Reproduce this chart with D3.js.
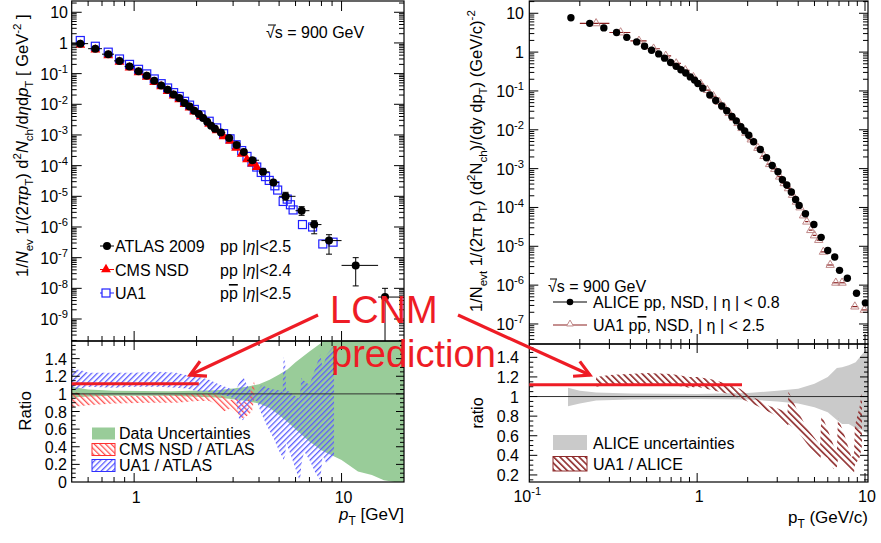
<!DOCTYPE html>
<html><head><meta charset="utf-8">
<script src="https://cdn.jsdelivr.net/npm/d3@7"></script>
<style>body{margin:0;background:#fff}svg text{font-family:"Liberation Sans",Arial,sans-serif;fill:#000}</style>
</head><body><svg id="c" width="881" height="543"></svg>
<script>
// ---------------- DATA ----------------
// Left: ATLAS 2009 (pT marker, bin low, bin high, value)
const atlasPt  = [0.55,0.65,0.75,0.85,0.95,1.05,1.15,1.25,1.35,1.45,1.55,1.65,1.75,1.85,1.95,2.05,2.15,2.25,2.35,2.45,2.62,2.87,3.12,3.38,3.72,4.18,4.69,5.37,6.42,7.38,8.7,11.7,16.2];
const atlasLo  = [0.5,0.6,0.7,0.8,0.9,1.0,1.1,1.2,1.3,1.4,1.5,1.6,1.7,1.8,1.9,2.0,2.1,2.2,2.3,2.4,2.5,2.75,3.0,3.25,3.5,4.0,4.5,5.0,6.0,7.0,8.0,10,15];
const atlasHi  = [0.6,0.7,0.8,0.9,1.0,1.1,1.2,1.3,1.4,1.5,1.6,1.7,1.8,1.9,2.0,2.1,2.2,2.3,2.4,2.5,2.75,3.0,3.25,3.5,4.0,4.5,5.0,6.0,7.0,8.0,10,15,20];
const atlasVal = [0.95,0.65,0.43,0.26,0.17,0.12,0.085,0.058,0.041,0.030,0.021,0.016,0.011,0.0085,0.0062,0.0048,0.0036,0.0027,0.0020,0.0016,0.0012,0.00079,0.00047,0.00028,0.00015,6.3e-5,2.8e-5,1.0e-5,3.4e-6,1.2e-6,3.6e-7,5.6e-8,5.2e-9];
// ATLAS y error bars where visible: [pT, low, high]
const atlasErr = [[4.18,5.2e-5,7.6e-5],[5.37,7.5e-6,1.35e-5],[6.42,2.4e-6,4.6e-6],[7.38,6.0e-7,1.6e-6],[8.7,1.3e-7,5.6e-7],[11.7,1.2e-8,1.0e-7],[16.2,1e-12,1.0e-8]];
// CMS NSD
const cmsPt  = [0.55,0.65,0.75,0.85,0.95,1.05,1.15,1.25,1.35,1.45,1.55,1.65,1.75,1.85,1.95,2.1,2.3,2.5,2.7,2.9,3.1,3.3,3.5,3.7,3.9];
const cmsVal = [0.86,0.60,0.39,0.24,0.155,0.11,0.078,0.053,0.038,0.027,0.019,0.0145,0.0101,0.0078,0.0057,0.0040,0.0023,0.0014,0.00090,0.00064,0.00038,0.00024,0.00016,0.000115,0.00009];
// UA1 (left panel)
const ua1LPt  = [0.55,0.65,0.75,0.85,0.95,1.05,1.15,1.25,1.35,1.45,1.55,1.65,1.75,1.85,1.95,2.1,2.3,2.5,2.7,2.9,3.1,3.3,3.5,3.7,3.9,4.1,4.3,4.48,4.77,4.92,5.23,5.47,5.67,5.84,6.48,7.25,8.12,9.1];
const ua1LVal = [1.2,0.78,0.5,0.3,0.2,0.138,0.098,0.067,0.047,0.034,0.024,0.018,0.0125,0.0094,0.0068,0.0045,0.0028,0.0017,0.0011,0.00075,0.00048,0.00031,0.00020,0.00013,9.0e-5,6.0e-5,4.4e-5,3.3e-5,2.2e-5,1.6e-5,6.8e-6,8.1e-6,5.3e-6,3.6e-6,1.2e-6,1.0e-6,2.8e-7,3.2e-7];
// Left ratio bands: [pT, low, high]
const dataUncBand = [[0.5,0.96,1.08],[0.6,0.97,1.05],[0.8,0.98,1.035],[1.5,0.98,1.03],[2.5,0.96,1.04],[3.0,0.94,1.06],[3.5,0.92,1.08],[4.0,0.89,1.11],[4.5,0.84,1.16],[5.0,0.76,1.22],[5.5,0.68,1.28],[6.0,0.6,1.36],[7.0,0.46,1.48],[8.0,0.36,1.58],[8.5,0.33,1.65],[10,0.25,1.65],[12,0.12,1.65],[14,0.08,1.65],[16,0.02,1.65],[18,0.0,1.65],[20,0.0,1.65]];
const cmsRatioBand = [[0.5,0.85,1.02],[0.6,0.87,1.0],[0.8,0.89,0.98],[1.2,0.9,0.98],[1.6,0.9,0.99],[2.0,0.92,1.0],[2.3,0.92,1.0],[2.5,0.88,0.99],[2.7,0.8,0.97],[2.9,0.83,0.93],[3.1,0.78,0.95],[3.3,0.72,0.92],[3.5,0.75,0.9],[3.7,0.8,1.08],[3.8,0.95,1.15]];
const ua1RatioBand = [[0.5,1.04,1.28],[0.55,1.06,1.27],[0.6,1.08,1.24],[0.8,1.07,1.24],[1.0,1.08,1.24],[1.3,1.08,1.25],[1.6,1.07,1.24],[1.8,1.06,1.21],[2.0,1.03,1.2],[2.3,1.02,1.16],[2.6,0.99,1.1],[2.9,0.97,1.06],[3.1,0.93,1.05],[3.2,0.72,1.12],[3.35,0.7,1.2],[3.5,0.8,1.1],[3.75,0.93,1.0],[3.9,0.92,1.02],[4.1,0.78,1.1],[4.4,0.62,1.07],[4.7,0.5,1.05],[5.0,0.35,1.04],[5.2,0.28,1.02],[5.25,0.25,1.42],[5.35,0.3,1.35],[5.4,0.45,1.05],[5.8,0.25,1.0],[6.2,0.05,0.95],[6.3,0.0,0.97],[6.4,0.2,1.18],[6.6,0.35,1.15],[7.0,0.25,1.1],[7.5,0.1,1.3],[7.9,0.02,1.45],[8.1,0.3,1.3],[8.5,0.2,1.45],[9.2,0.3,1.55]];
// Right: ALICE pp NSD
const alicePt  = [0.177,0.229,0.278,0.331,0.381,0.436,0.486,0.535,0.59,0.64,0.695,0.75,0.80,0.855,0.91,0.965,1.01,1.08,1.19,1.29,1.40,1.50,1.61,1.71,1.82,1.92,2.03,2.17,2.38,2.59,2.80,3.03,3.22,3.42,3.64,3.86,4.05,4.42,4.96,5.48,6.0,6.6,7.05,7.85,8.9,10.05];
const aliceVal = [7.7,5.5,4.2,3.2,2.4,1.83,1.42,1.12,0.90,0.70,0.54,0.43,0.35,0.29,0.23,0.19,0.155,0.118,0.079,0.057,0.041,0.031,0.022,0.017,0.012,0.0094,0.0072,0.0049,0.0031,0.0019,0.0012,0.00083,0.00052,0.00038,0.00025,0.00016,0.000113,6.9e-5,3.65e-5,1.7e-5,7.8e-6,5.3e-6,2.4e-6,1.5e-6,6.2e-7,3.5e-7];
// Right: UA1 ppbar NSD (pT, half bin width, value)
const ua1RPt  = [0.25,0.35,0.45,0.55,0.65,0.75,0.85,0.95,1.05,1.15,1.25,1.35,1.45,1.55,1.65,1.75,1.85,1.95,2.1,2.3,2.5,2.7,2.9,3.1,3.3,3.5,3.7,3.9,4.1,4.3,4.5,4.75,5.0,5.3,5.65,6.2,6.7,7.3,8.7,9.9];
const ua1RDx  = [0.05,0.05,0.05,0.05,0.05,0.05,0.05,0.05,0.05,0.05,0.05,0.05,0.05,0.05,0.05,0.05,0.05,0.05,0.1,0.1,0.1,0.1,0.1,0.1,0.1,0.1,0.1,0.1,0.1,0.1,0.1,0.125,0.125,0.15,0.2,0.3,0.3,0.3,0.4,0.4];
const ua1RVal = [5.5,3.2,1.95,1.22,0.80,0.51,0.34,0.225,0.152,0.105,0.073,0.052,0.038,0.027,0.020,0.0148,0.011,0.0083,0.0056,0.0034,0.0021,0.0013,0.00098,0.00062,0.00042,0.00031,0.00021,0.00014,1.0e-4,6.2e-5,4.3e-5,2.6e-5,1.9e-5,1.45e-5,7.2e-6,3.3e-6,1.15e-6,1.15e-6,2.8e-7,2.3e-7];
// Right ratio bands
const aliceUncBand = [[0.17,0.9,1.09],[0.2,0.93,1.06],[0.25,0.96,1.04],[0.4,0.97,1.03],[1.0,0.975,1.025],[2.0,0.97,1.035],[3.0,0.95,1.06],[4.0,0.93,1.08],[5.0,0.89,1.13],[6.0,0.84,1.2],[6.8,0.76,1.29],[7.3,0.72,1.3],[8.0,0.72,1.32],[8.8,0.68,1.35],[9.5,0.66,1.42],[10.42,0.62,1.5]];
const ua1AliceBand = [[0.25,1.1,1.2],[0.3,1.12,1.22],[0.5,1.13,1.24],[0.7,1.12,1.23],[0.9,1.09,1.2],[1.0,1.1,1.2],[1.2,1.07,1.18],[1.5,1.03,1.13],[1.8,0.98,1.08],[2.0,0.95,1.02],[2.3,0.9,0.97],[2.7,0.84,0.9],[3.0,0.8,0.88],[3.3,0.72,0.85],[3.45,0.68,0.82],[3.5,0.72,1.05],[3.9,0.66,0.88],[4.5,0.52,0.68],[5.0,0.42,0.58],[5.4,0.36,0.5],[5.5,0.42,0.82],[6.0,0.37,0.66],[6.5,0.26,0.5],[6.8,0.28,0.45],[6.9,0.36,0.78],[7.5,0.3,0.62],[8.3,0.22,0.38],[8.6,0.22,0.4],[8.7,0.3,0.7],[9.3,0.38,0.9],[9.6,0.5,1.05]];
// LCNM prediction levels: [pT from, pT to, ratio]
const lcnmLeft  = [0.5, 2.05, 1.115];
const lcnmRight = [0.1, 1.85, 1.12];
const xTickLabelsL = [1,10];
const xTickLabelsR = [0.1,1,10];

// ---------------- SCALES ----------------
const svg = d3.select("#c");
const Lx  = d3.scaleLog().domain([0.5,20]).range([71.7,404]);
const LyT = d3.scaleLog().domain([1.92e-10,23.3]).range([341,1]);
const LyR = d3.scaleLinear().domain([0,1.6]).range([482,341]);
const Rx  = d3.scaleLog().domain([0.1,10.42]).range([529.3,868]);
const RyT = d3.scaleLog().domain([3.05e-8,20.7]).range([344,1]);
const RyR = d3.scaleLinear().domain([0.128,1.536]).range([482,344]);

const defs = svg.append("defs");
function hatch(id, color, angle, gap, w){
  const p = defs.append("pattern").attr("id",id).attr("patternUnits","userSpaceOnUse")
    .attr("width",gap).attr("height",gap).attr("patternTransform",`rotate(${angle})`);
  p.append("rect").attr("x",0).attr("y",0).attr("width",w).attr("height",gap).attr("fill",color);
}
hatch("hRed","#ff5050",-45,4,1.3);
hatch("hBlue","#5a5aff",45,4,1.3);
hatch("hBrown","#8e2a2a",-45,4.5,1.6);
function clip(id,x,y){
  defs.append("clipPath").attr("id",id).append("rect")
   .attr("x",x.range()[0]).attr("y",d3.min(y.range())).attr("width",x.range()[1]-x.range()[0]).attr("height",Math.abs(y.range()[0]-y.range()[1]));
}
clip("cLT",Lx,LyT); clip("cLR",Lx,LyR); clip("cRT",Rx,RyT); clip("cRR",Rx,RyR);

function logTicks(d){const o=[];const e0=Math.floor(Math.log10(d[0]))-1,e1=Math.ceil(Math.log10(d[1]));
  for(let e=e0;e<=e1;e++)for(let k=1;k<=9;k++){const v=k*Math.pow(10,e);if(v>=d[0]*0.9999&&v<=d[1]*1.0001)o.push({v,major:k===1});}return o;}
function linTicks(d,maj,min){const o=[];for(let v=Math.ceil(d[0]/min-1e-6)*min;v<=d[1]+1e-9;v+=min){const m=Math.abs(v/maj-Math.round(v/maj))<1e-6;o.push({v,major:m});}return o;}

function frame(x,y,xt,yt,xl,yl){
  const g=svg.append("g");
  const [x0,x1]=x.range(), yb=d3.max(y.range()), ytp=d3.min(y.range());
  xt.forEach(t=>{const X=x(t.v);if(X<x0+0.5||X>x1-0.5)return;const L=t.major?xl[0]:xl[1];
    g.append("line").attr("x1",X).attr("x2",X).attr("y1",yb).attr("y2",yb-L);
    g.append("line").attr("x1",X).attr("x2",X).attr("y1",ytp).attr("y2",ytp+L);});
  yt.forEach(t=>{const Y=y(t.v);if(Y<ytp+0.5||Y>yb-0.5)return;const L=t.major?yl[0]:yl[1];
    g.append("line").attr("x1",x0).attr("x2",x0+L).attr("y1",Y).attr("y2",Y);
    g.append("line").attr("x1",x1).attr("x2",x1-L).attr("y1",Y).attr("y2",Y);});
  g.selectAll("line").attr("stroke","#000").attr("stroke-width",1);
  g.append("rect").attr("x",x0).attr("y",ytp).attr("width",x1-x0).attr("height",yb-ytp).attr("fill","none").attr("stroke","#000").attr("stroke-width",1.2);
}

function rich(sel, segs, size){
  let cur=0;
  segs.forEach(s=>{
    const sh = s.sub? size*0.32 : s.sup? -size*0.42 : 0;
    const t = sel.append("tspan").text(s.t).attr("dy",sh-cur).attr("font-size",(s.sub||s.sup)?size*0.7:size);
    if(s.i) t.attr("font-style","italic");
    if(s.o) t.attr("text-decoration","overline");
    cur=sh;
  });
  return sel;
}
function pow10Label(g,x,y,v,anchor,size){
  const e=Math.round(Math.log10(v));
  const t=g.append("text").attr("x",x).attr("y",y).attr("text-anchor",anchor).attr("font-size",size);
  if(e===0) t.text("1"); else if(e===1) t.text("10"); else rich(t,[{t:"10"},{t:String(e),sup:true}],size);
}

// ---------------- LEFT PANEL ----------------
const gLR = svg.append("g").attr("clip-path","url(#cLR)");
const areaL = d3.area().x(d=>Lx(d[0])).y0(d=>LyR(d[1])).y1(d=>LyR(d[2]));
gLR.append("path").datum(dataUncBand).attr("d",areaL).attr("fill","#99cc99");
gLR.append("path").datum(cmsRatioBand).attr("d",areaL).attr("fill","url(#hRed)");
gLR.append("path").datum(ua1RatioBand).attr("d",areaL).attr("fill","url(#hBlue)");
gLR.append("line").attr("x1",Lx.range()[0]).attr("x2",Lx.range()[1]).attr("y1",LyR(1)).attr("y2",LyR(1)).attr("stroke","#333").attr("stroke-width",1);

const gLT = svg.append("g").attr("clip-path","url(#cLT)");
ua1LPt.forEach((p,i)=>{gLT.append("rect").attr("x",Lx(p)-4).attr("y",LyT(ua1LVal[i])-4).attr("width",8).attr("height",8).attr("fill","none").attr("stroke","#2020ff").attr("stroke-width",1.2);});
const tri = d3.symbol().type(d3.symbolTriangle).size(42);
cmsPt.forEach((p,i)=>{gLT.append("path").attr("d",tri()).attr("transform",`translate(${Lx(p)},${LyT(cmsVal[i])})`).attr("fill","#ff0000");});
atlasPt.forEach((p,i)=>{
  gLT.append("line").attr("x1",Lx(atlasLo[i])).attr("x2",Lx(atlasHi[i])).attr("y1",LyT(atlasVal[i])).attr("y2",LyT(atlasVal[i])).attr("stroke","#000");
});
atlasErr.forEach(e=>{
  const X=Lx(e[0]);
  gLT.append("line").attr("x1",X).attr("x2",X).attr("y1",LyT(e[1])).attr("y2",LyT(e[2])).attr("stroke","#000");
  gLT.append("line").attr("x1",X-3).attr("x2",X+3).attr("y1",LyT(e[2])).attr("y2",LyT(e[2])).attr("stroke","#000");
  if(e[1]>1e-11) gLT.append("line").attr("x1",X-3).attr("x2",X+3).attr("y1",LyT(e[1])).attr("y2",LyT(e[1])).attr("stroke","#000");
});
atlasPt.forEach((p,i)=>{gLT.append("circle").attr("cx",Lx(p)).attr("cy",LyT(atlasVal[i])).attr("r",4).attr("fill","#000");});

frame(Lx,LyT,logTicks(Lx.domain()),logTicks(LyT.domain()),[10,5],[10,5]);
frame(Lx,LyR,logTicks(Lx.domain()),linTicks(LyR.domain(),0.2,0.05),[9,5],[8,4]);

logTicks(LyT.domain()).filter(t=>t.major).forEach(t=>pow10Label(svg,68,LyT(t.v)+6,t.v,"end",16));
[0,0.2,0.4,0.6,0.8,1,1.2,1.4].forEach(v=>svg.append("text").attr("x",67).attr("y",LyR(v)+6).attr("text-anchor","end").attr("font-size",16).text(v===0?"0":(v===1?"1":v.toFixed(1))));
xTickLabelsL.forEach(v=>svg.append("text").attr("x",Lx(v)+2).attr("y",503).attr("text-anchor","middle").attr("font-size",16).text(String(v)));

rich(svg.append("text").attr("text-anchor","start").attr("transform","translate(28,277) rotate(-90)"),
 [{t:"1/"},{t:"N",i:1},{t:"ev",sub:1},{t:" 1/(2"},{t:"πp",i:1},{t:"T",sub:1},{t:") d"},{t:"2",sup:1},{t:"N",i:1},{t:"ch",sub:1},{t:"/d"},{t:"η",i:1},{t:"d"},{t:"p",i:1},{t:"T",sub:1},{t:" [ GeV"},{t:"-2",sup:1},{t:" ]"}],16.5);
svg.append("text").attr("transform","translate(31,411) rotate(-90)").attr("text-anchor","middle").attr("font-size",17).text("Ratio");
rich(svg.append("text").attr("x",404).attr("y",520).attr("text-anchor","end"),[{t:"p",i:1},{t:"T",sub:1},{t:" [GeV]"}],17);
svg.append("text").attr("x",266).attr("y",38).attr("font-size",16).text("\u221As = 900 GeV");
svg.append("line").attr("x1",268).attr("x2",276).attr("y1",25).attr("y2",25).attr("stroke","#000").attr("stroke-width",1);

const legL=[{y:246,name:"ATLAS 2009",cond:[{t:"pp |"},{t:"η",i:1},{t:"|<2.5"}],m:"c"},
            {y:269.5,name:"CMS NSD",cond:[{t:"pp |"},{t:"η",i:1},{t:"|<2.4"}],m:"t"},
            {y:293,name:"UA1",cond:[{t:"p"},{t:"p",o:1},{t:" |"},{t:"η",i:1},{t:"|<2.5"}],m:"s"}];
legL.forEach(d=>{
  const col=d.m==="c"?"#000":d.m==="t"?"#ff0000":"#2020ff";
  svg.append("line").attr("x1",100).attr("x2",114).attr("y1",d.y).attr("y2",d.y).attr("stroke",col);
  if(d.m==="c") svg.append("circle").attr("cx",107).attr("cy",d.y).attr("r",4).attr("fill","#000");
  if(d.m==="t") svg.append("path").attr("d",tri()).attr("transform",`translate(106,${d.y})`).attr("fill","#ff0000");
  if(d.m==="s") svg.append("rect").attr("x",102).attr("y",d.y-4).attr("width",8).attr("height",8).attr("fill","#fff").attr("stroke","#2020ff").attr("stroke-width",1.2);
  svg.append("text").attr("x",115).attr("y",d.y+6).attr("font-size",16).text(d.name);
  rich(svg.append("text").attr("x",220).attr("y",d.y+6),d.cond,16);
});
const legLR=[{y:427.5,fill:"#99cc99",stroke:"none",t:"Data Uncertainties"},{y:443.5,fill:"url(#hRed)",stroke:"#ff3030",t:"CMS NSD / ATLAS"},{y:459.5,fill:"url(#hBlue)",stroke:"#3030ff",t:"UA1 / ATLAS"}];
legLR.forEach(d=>{
  svg.append("rect").attr("x",92).attr("y",d.y).attr("width",23).attr("height",12).attr("fill",d.fill).attr("stroke",d.stroke);
  svg.append("text").attr("x",119).attr("y",d.y+11.5).attr("font-size",16).text(d.t);
});

// ---------------- RIGHT PANEL ----------------
const gRR = svg.append("g").attr("clip-path","url(#cRR)");
const areaR = d3.area().x(d=>Rx(d[0])).y0(d=>RyR(d[1])).y1(d=>RyR(d[2]));
gRR.append("path").datum(aliceUncBand).attr("d",areaR).attr("fill","#cacaca");
gRR.append("line").attr("x1",Rx.range()[0]).attr("x2",Rx.range()[1]).attr("y1",RyR(1)).attr("y2",RyR(1)).attr("stroke","#333").attr("stroke-width",1);
gRR.append("path").datum(ua1AliceBand).attr("d",areaR).attr("fill","url(#hBrown)");

const gRT = svg.append("g").attr("clip-path","url(#cRT)");
const triO = d3.symbol().type(d3.symbolTriangle).size(30);
ua1RPt.forEach((p,i)=>{
  const Y=RyT(ua1RVal[i]);
  gRT.append("line").attr("x1",Rx(p-ua1RDx[i])).attr("x2",Rx(p+ua1RDx[i])).attr("y1",Y).attr("y2",Y).attr("stroke","#8b2020").attr("stroke-width",1.2);
  gRT.append("path").attr("d",triO()).attr("transform",`translate(${Rx(p)},${Y})`).attr("fill","none").attr("stroke","#c08888").attr("stroke-width",1);
});
alicePt.forEach((p,i)=>{gRT.append("circle").attr("cx",Rx(p)).attr("cy",RyT(aliceVal[i])).attr("r",3.7).attr("fill","#000");});

frame(Rx,RyT,logTicks(Rx.domain()),logTicks(RyT.domain()),[10,5],[9,5]);
frame(Rx,RyR,logTicks(Rx.domain()),linTicks(RyR.domain(),0.2,0.05),[9,5],[8,4]);

logTicks(RyT.domain()).filter(t=>t.major).forEach(t=>pow10Label(svg,524,RyT(t.v)+6,t.v,"end",16));
[0.2,0.4,0.6,0.8,1,1.2,1.4].forEach(v=>svg.append("text").attr("x",519).attr("y",RyR(v)+6).attr("text-anchor","end").attr("font-size",16).text(v===1?"1":v.toFixed(1)));
xTickLabelsR.forEach(v=>pow10Label(svg,Rx(v)+(v===0.1?-2:2),502,v,"middle",16));

rich(svg.append("text").attr("text-anchor","start").attr("transform","translate(482,312) rotate(-90)"),
 [{t:"1/N"},{t:"evt",sub:1},{t:" 1/(2π p"},{t:"T",sub:1},{t:") (d"},{t:"2",sup:1},{t:"N"},{t:"ch",sub:1},{t:")/(dy dp"},{t:"T",sub:1},{t:") (GeV/c)"},{t:"-2",sup:1}],16.5);
svg.append("text").attr("transform","translate(483,413) rotate(-90)").attr("text-anchor","middle").attr("font-size",16).text("ratio");
rich(svg.append("text").attr("x",868).attr("y",523).attr("text-anchor","end"),[{t:"p"},{t:"T",sub:1},{t:" (GeV/c)"}],17);

svg.append("text").attr("x",548).attr("y",291.5).attr("font-size",16).text("\u221As = 900 GeV");
svg.append("line").attr("x1",550).attr("x2",557).attr("y1",279).attr("y2",279).attr("stroke","#000");
svg.append("line").attr("x1",553).attr("x2",587).attr("y1",302).attr("y2",302).attr("stroke","#000").attr("stroke-width",1.2);
svg.append("circle").attr("cx",570).attr("cy",302).attr("r",3.3).attr("fill","#000");
svg.append("text").attr("x",593).attr("y",308).attr("font-size",16).text("ALICE pp, NSD, | η | < 0.8");
svg.append("line").attr("x1",553).attr("x2",587).attr("y1",325).attr("y2",325).attr("stroke","#8b2020").attr("stroke-width",1.2);
svg.append("path").attr("d",d3.symbol().type(d3.symbolTriangle).size(20)()).attr("transform","translate(570,324)").attr("fill","#fff").attr("stroke","#c08888");
rich(svg.append("text").attr("x",593).attr("y",331),[{t:"UA1 p"},{t:"p",o:1},{t:", NSD, | η | < 2.5"}],16);

svg.append("rect").attr("x",553).attr("y",435).attr("width",34).attr("height",15).attr("fill","#cacaca");
svg.append("text").attr("x",593).attr("y",449).attr("font-size",16).text("ALICE uncertainties");
svg.append("rect").attr("x",553).attr("y",456.5).attr("width",34).attr("height",14.5).attr("fill","url(#hBrown)").attr("stroke","#8e2a2a");
svg.append("text").attr("x",593).attr("y",469.5).attr("font-size",16).text("UA1 / ALICE");

// ---------------- LCNM ANNOTATION ----------------
const RED="#ee1c25";
svg.append("line").attr("x1",Lx(lcnmLeft[0])).attr("x2",Lx(lcnmLeft[1])).attr("y1",LyR(lcnmLeft[2])).attr("y2",LyR(lcnmLeft[2])).attr("stroke",RED).attr("stroke-width",3.2);
svg.append("line").attr("x1",Rx(lcnmRight[0])).attr("x2",Rx(lcnmRight[1])).attr("y1",RyR(lcnmRight[2])).attr("y2",RyR(lcnmRight[2])).attr("stroke",RED).attr("stroke-width",3.2);
function arrow(x0,y0,x1,y1){
  svg.append("line").attr("x1",x0).attr("y1",y0).attr("x2",x1).attr("y2",y1).attr("stroke",RED).attr("stroke-width",3.2);
  const a=Math.atan2(y0-y1,x0-x1), L=17, s=0.5;
  const p=[[x1+L*Math.cos(a+s),y1+L*Math.sin(a+s)],[x1,y1],[x1+L*Math.cos(a-s),y1+L*Math.sin(a-s)]];
  svg.append("path").attr("d",d3.line()(p)).attr("fill","none").attr("stroke",RED).attr("stroke-width",3.2).attr("stroke-linejoin","miter");
}
arrow(318,315,190,375);
arrow(458,315,590,375);
svg.append("text").attr("x",330).attr("y",323).attr("font-size",38).style("fill",RED).text("LCNM");
svg.append("text").attr("x",331).attr("y",366.5).attr("font-size",38).style("fill",RED).text("prediction");
</script></body></html>
